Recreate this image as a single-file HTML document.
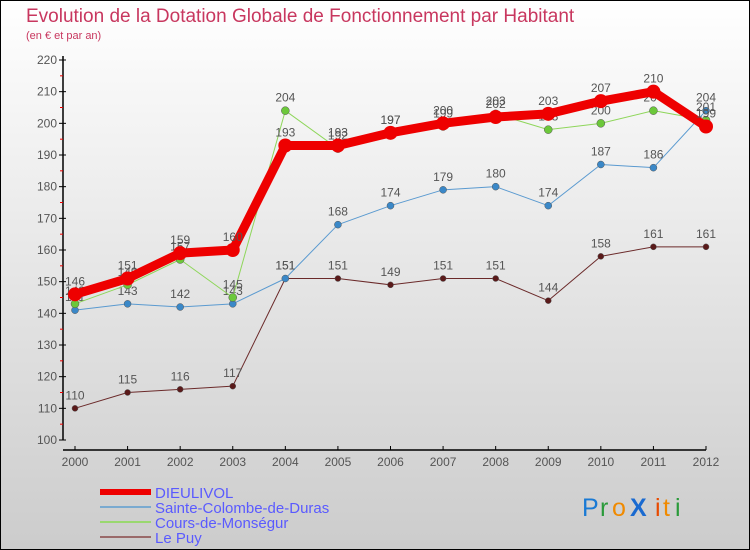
<!DOCTYPE html>
<html><head><meta charset="utf-8"><style>
body{margin:0;}
#wrap{width:748px;height:548px;border:1px solid #000;background:linear-gradient(#fff,#ccc);position:relative;overflow:hidden;font-family:"Liberation Sans",sans-serif;}
svg text{font-family:"Liberation Sans",sans-serif;}
</style></head><body>
<div id="wrap">
<svg id="c" width="750" height="550" style="position:absolute;left:-1px;top:-1px">
<text x="26" y="22" font-size="19" fill="#c8375f">Evolution de la Dotation Globale de Fonctionnement par Habitant</text>
<text x="26" y="39" font-size="11" fill="#c8375f">(en € et par an)</text>
<g id="axes"></g><g id="series"></g><g id="legend"></g>
<g font-size="25">
<text x="582" y="516" fill="#1a7ad4">P</text><text x="600" y="516" fill="#2a9a3a">r</text><text x="612" y="516" fill="#f08a00">o</text><text x="630" y="516" fill="#1a6ad0" font-weight="bold">X</text><text x="655" y="516" fill="#e84a00">i</text><text x="663" y="516" fill="#f08a00">t</text><text x="675" y="516" fill="#2a9a3a">i</text>
</g>
</svg></div>
<script>
const years=[2000,2001,2002,2003,2004,2005,2006,2007,2008,2009,2010,2011,2012];
const dieulivol=[146,151,159,160,193,193,197,200,202,203,207,210,199];
const sainteColombe=[141,143,142,143,151,168,174,179,180,174,187,186,204];
const cours=[143,149,157,145,204,192,197,199,203,198,200,204,201];
const lePuy=[110,115,116,117,151,151,149,151,151,144,158,161,161];
const yTicks=[100,110,120,130,140,150,160,170,180,190,200,210,220];
const NS='http://www.w3.org/2000/svg';
const xs=i=>75+i*(706-75)/12;
const ys=v=>440-(v-100)*380/120;
function mk(t,a,p){const e=document.createElementNS(NS,t);for(const k in a)e.setAttribute(k,a[k]);p.appendChild(e);return e;}
const ax=document.getElementById('axes');
let l=mk('line',{x1:63,y1:56,x2:63,y2:440,stroke:'#000','stroke-width':1.5},ax);

l=mk('line',{x1:63,y1:450,x2:706,y2:450,stroke:'#000','stroke-width':1.5},ax);

yTicks.forEach(v=>{
  mk('line',{x1:59,y1:ys(v),x2:66,y2:ys(v),stroke:'#000'},ax);
  if(v<220)mk('line',{x1:60,y1:ys(v+5),x2:63,y2:ys(v+5),stroke:'#e00'},ax);
  const t=mk('text',{x:57,y:ys(v)+4,'font-size':12,fill:'#555','text-anchor':'end'},ax);t.textContent=v;
  
});
years.forEach((y,i)=>{
  mk('line',{x1:xs(i),y1:446,x2:xs(i),y2:450,stroke:'#000'},ax);
  const t=mk('text',{x:xs(i),y:466,'font-size':12,fill:'#555','text-anchor':'middle'},ax);t.textContent=y;
  
});
const sg=document.getElementById('series');
const defs=[
 {d:lePuy,c:'#6b2a2a',w:1,r:3,f:'#5a1a1a',n:'le-puy'},
 {d:sainteColombe,c:'#5a9ad0',w:1,r:3.5,f:'#3a88c8',n:'sainte-colombe'},
 {d:cours,c:'#8ed65a',w:1,r:4,f:'#6cc83a',n:'cours-de-monsegur'},
 {d:dieulivol,c:'#ee0000',w:9,r:7,f:'#ee0000',n:'dieulivol'}];
defs.forEach(s=>{
  const g=mk('g',{},sg);
  
  const p=mk('polyline',{points:s.d.map((v,i)=>xs(i)+','+ys(v)).join(' '),fill:'none',stroke:s.c,'stroke-width':s.w,'stroke-linejoin':'round'},g);
  
  s.d.forEach((v,i)=>{
    const c=mk('circle',{cx:xs(i),cy:ys(v),r:s.r,fill:s.f,stroke:s.w>1?'none':'#555','stroke-width':0.5},g);
    
    const t=mk('text',{x:xs(i),y:ys(v)-9,'font-size':12,fill:'#555','text-anchor':'middle'},g);t.textContent=v;
    
  });
});
const lg=document.getElementById('legend');
const leg=[['DIEULIVOL','#ee0000',6],['Sainte-Colombe-de-Duras','#7aaad0',2],['Cours-de-Monségur','#9ad870',2],['Le Puy','#9a6a6a',2]];
leg.forEach((e,i)=>{
  const y=492+i*15;
  const g=mk('g',{},lg);
  
  mk('line',{x1:100,y1:y,x2:151,y2:y,stroke:e[1],'stroke-width':e[2]},g);
  const t=mk('text',{x:155,y:y+6,'font-size':15,fill:'#5a5aff'},g);t.textContent=e[0];
});
</script>
</body></html>
